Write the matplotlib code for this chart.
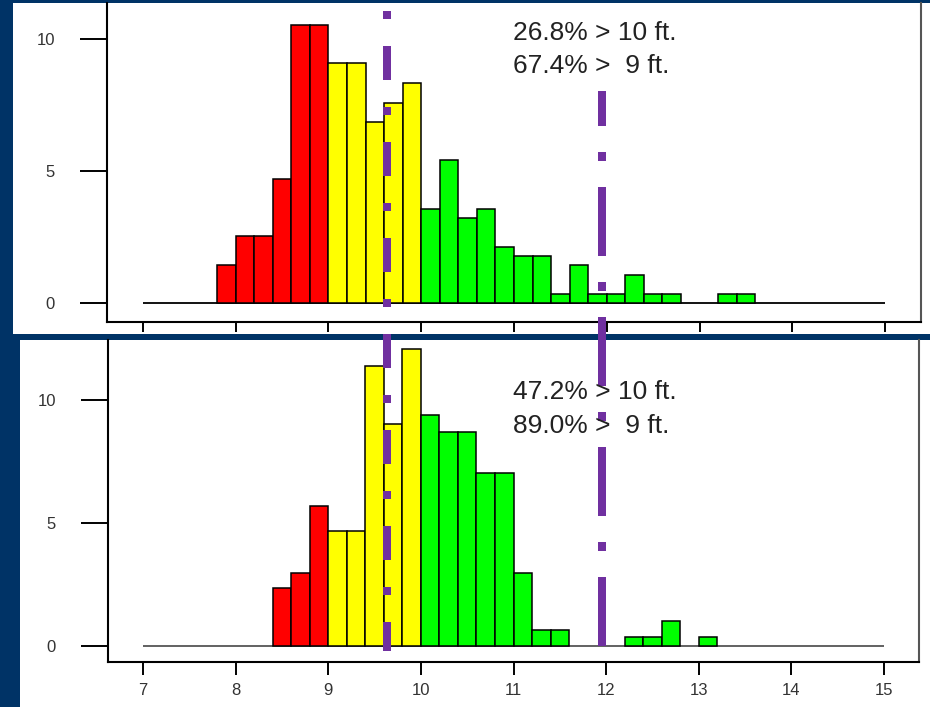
import numpy as np
import matplotlib

matplotlib.use("Agg")
import matplotlib.pyplot as plt
from matplotlib.patches import Rectangle
from matplotlib.lines import Line2D
from matplotlib.transforms import blended_transform_factory

# data: 0.2 ft bins from 7.0 to 15.0
bin_width = 0.2
bin_start = 7.0
top_heights = [0, 0, 0, 0, 1.44, 2.54, 2.54, 4.70, 10.53, 10.53,
               9.08, 9.08, 6.86, 7.56, 8.34, 3.56, 5.40, 3.23, 3.56, 2.13,
               1.78, 1.78, 0.33, 1.44, 0.33, 0.33, 1.05, 0.33, 0.33, 0,
               0, 0.33, 0.33, 0, 0, 0, 0, 0, 0, 0]
bottom_heights = [0, 0, 0, 0, 0, 0, 0, 2.35, 2.98, 5.70,
                  4.69, 4.69, 11.38, 9.02, 12.07, 9.38, 8.69, 8.69, 7.05, 7.05,
                  2.98, 0.65, 0.65, 0, 0, 0, 0.35, 0.35, 1.02, 0,
                  0.35, 0, 0, 0, 0, 0, 0, 0, 0, 0]
top_text = ["26.8% > 10 ft.", "67.4% >  9 ft."]
bottom_text = ["47.2% > 10 ft.", "89.0% >  9 ft."]
xticks = [7, 8, 9, 10, 11, 12, 13, 14, 15]
yticks = [0, 5, 10]
mark_lines = [9.63, 11.95]

W, H = 930, 707
BLUE = "#003366"
PURPLE = "#7030A0"

plt.rcParams["font.family"] = ["Liberation Sans", "DejaVu Sans"]
plt.rcParams["lines.scale_dashes"] = False


def px(x0, y0, x1, y1):
    # pixel box (top-left origin) -> figure fraction rect
    return [x0 / W, 1 - y1 / H, (x1 - x0) / W, (y1 - y0) / H]


def bar_color(left):
    if left < 9 - 1e-9:
        return "#FF0000"
    if left < 10 - 1e-9:
        return "#FFFF00"
    return "#00FF00"


def draw_hist(ax, heights, base_color):
    lefts = bin_start + bin_width * np.arange(len(heights))
    ax.hlines(0, bin_start, bin_start + bin_width * len(heights),
              color=base_color, lw=1.3, zorder=1)
    for left, h in zip(lefts, heights):
        if h <= 0:
            continue
        ax.bar(left, h, width=bin_width, align="edge", color=bar_color(left),
               edgecolor="black", linewidth=1.1, zorder=2)


def style_axes(ax, xlim, ylim, xlabels, xtick_len):
    ax.set_xlim(*xlim)
    ax.set_ylim(*ylim)
    ax.set_facecolor("white")
    ax.spines["top"].set_visible(False)
    ax.spines["left"].set_linewidth(1.5)
    ax.spines["bottom"].set_linewidth(1.5)
    ax.spines["right"].set_linewidth(1.5)
    ax.spines["right"].set_color("#555555")
    ax.set_xticks(xticks)
    ax.set_yticks(yticks)
    ax.tick_params(axis="y", direction="out", length=19.5, width=1.4,
                   pad=18, labelsize=12, labelcolor="#333333")
    ax.tick_params(axis="x", direction="out", length=xtick_len, width=1.4,
                   pad=6, labelsize=12, labelcolor="#333333",
                   labelbottom=xlabels)


fig = plt.figure(figsize=(W / 100, H / 100), dpi=100)
fig.patch.set_facecolor(BLUE)

# white panels
fig.add_artist(Rectangle(px(13, 3, 930, 334)[:2], px(13, 3, 930, 334)[2],
                         px(13, 3, 930, 334)[3], transform=fig.transFigure,
                         facecolor="white", edgecolor="none", zorder=0))
fig.add_artist(Rectangle(px(20, 340, 930, 707)[:2], px(20, 340, 930, 707)[2],
                         px(20, 340, 930, 707)[3], transform=fig.transFigure,
                         facecolor="white", edgecolor="none", zorder=0))

ax_top = fig.add_axes(px(107, 3, 921, 322), zorder=1)
ax_bot = fig.add_axes(px(108, 340, 919, 662), zorder=1)

draw_hist(ax_top, top_heights, "black")
draw_hist(ax_bot, bottom_heights, "#555555")

style_axes(ax_top, (6.612, 15.388), (-0.72, 11.36), False, 7.2)
style_axes(ax_bot, (6.622, 15.378), (-0.65, 12.44), True, 9.4)

# dash-dot marker lines running across both panels
trans = blended_transform_factory(ax_top.transData, fig.transFigure)
k = 0.72  # px -> pt at 100 dpi
fig.add_artist(Line2D([mark_lines[0]] * 2, [1 - 11 / H, 1 - 651 / H],
                      transform=trans, color=PURPLE, lw=8 * k, zorder=3,
                      linestyle=(0, (8 * k, 27 * k, 34 * k, 27 * k))))
fig.add_artist(Line2D([mark_lines[1]] * 2, [1 - 91 / H, 1 - 646 / H],
                      transform=trans, color=PURPLE, lw=8 * k, zorder=3,
                      linestyle=(34 * k, (69 * k, 26 * k, 9 * k, 26 * k))))

# percentage notes
for i, s in enumerate(top_text):
    fig.text(513 / W, 1 - (40 + 33 * i) / H, s, fontsize=19, color="#222222",
             va="baseline", ha="left", zorder=5)
for i, s in enumerate(bottom_text):
    fig.text(513 / W, 1 - (399 + 34 * i) / H, s, fontsize=19, color="#222222",
             va="baseline", ha="left", zorder=5)

plt.savefig("out.png", dpi=100, facecolor=fig.get_facecolor())
